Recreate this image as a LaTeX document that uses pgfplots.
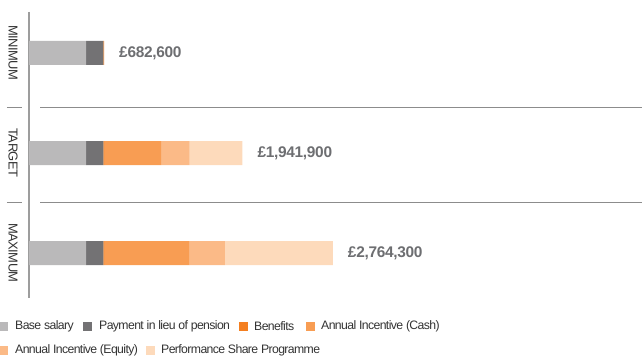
\documentclass[border=0pt]{standalone}
\usepackage{fontspec}
\setmainfont{Liberation Sans}
\newfontfamily\tightfont{Liberation Sans}[LetterSpace=-5]
\newfontfamily\catfont{Liberation Sans}[LetterSpace=-4]
\newfontfamily\valfont{Liberation Sans}[LetterSpace=-2]
\usepackage{pgfplots}
\usepackage{pgfplotstable}
\pgfplotsset{compat=1.18}
\definecolor{cbase}{HTML}{BAB9BA}
\definecolor{cpens}{HTML}{737274}
\definecolor{cben}{HTML}{F47F20}
\definecolor{ccash}{HTML}{F89D53}
\definecolor{cequ}{HTML}{FBBA87}
\definecolor{cpsp}{HTML}{FDDABB}
\definecolor{clab}{HTML}{6D6E71}
\definecolor{ctxt}{HTML}{333333}
\definecolor{cline}{HTML}{8C8C8C}
\tikzset{
  vlab/.style={anchor=west, inner sep=0pt, xshift=15bp, text=clab, font=\valfont\fontsize{15.5}{17}\selectfont\bfseries},
  clab/.style={rotate=-90, text=ctxt, inner sep=0pt, font=\catfont\fontsize{13}{15}\selectfont},
  leg/.style={anchor=west, inner sep=0pt, text=ctxt, font=\tightfont\fontsize{12.3}{14}\selectfont},
}
\pgfplotstableread{
cat base pension benefits cash equity psp
0 520000 156000 6600 0 0 0
1 520000 156000 6600 520000 260000 479300
2 520000 156000 6600 780000 320000 981700
}\data
\begin{document}
\begin{tikzpicture}[x=1bp,y=1bp]
\path[use as bounding box] (0,0) rectangle (642,358);
\begin{axis}[
  at={(29bp,60bp)}, anchor=south west,
  scale only axis, width=613bp, height=286bp,
  xbar stacked, bar width=0.24,
  xmin=0, xmax=5578300, ymin=-0.41, ymax=2.45,
  y dir=reverse, axis lines=none, clip=false,
  xtick=\empty, ytick=\empty,
]
\addplot[fill=cbase, draw=none] table[x=base, y=cat] {\data};
\addplot[fill=cpens, draw=none] table[x=pension, y=cat] {\data};
\addplot[fill=cben, draw=none] table[x=benefits, y=cat] {\data};
\addplot[fill=ccash, draw=none] table[x=cash, y=cat] {\data};
\addplot[fill=cequ, draw=none] table[x=equity, y=cat] {\data};
\addplot[fill=cpsp, draw=none] table[x=psp, y=cat] {\data};
\draw[cline, line width=0.9bp] (axis cs:100100,0.54) -- (axis cs:5578300,0.54);
\draw[cline, line width=0.9bp] (axis cs:100100,1.49) -- (axis cs:5578300,1.49);
\draw[cline, line width=0.9bp] (axis cs:-200200,0.54) -- (axis cs:-63700,0.54);
\draw[cline, line width=0.9bp] (axis cs:-200200,1.49) -- (axis cs:-63700,1.49);
\draw[cline!85, line width=1.3bp] (axis cs:0,-0.41) -- (axis cs:0,2.45);
\node[vlab] at (axis cs:682600,0) {£682,600};
\node[vlab] at (axis cs:1941900,1) {£1,941,900};
\node[vlab] at (axis cs:2764300,2) {£2,764,300};
\node[clab] at (axis cs:-145600,0) {MINIMUM};
\node[clab] at (axis cs:-145600,1) {TARGET};
\node[clab] at (axis cs:-145600,2) {MAXIMUM};
\end{axis}
\fill[cbase] (-1,27.5) rectangle (8,36.5);
\node[leg] at (15,32) {Base salary};
\fill[cpens] (83,27.5) rectangle (92,36.5);
\node[leg] at (99,32) {Payment in lieu of pension};
\fill[cben] (239,27.5) rectangle (248,36.5);
\node[leg] at (254,32) {Benefits};
\fill[ccash] (306,27.5) rectangle (315,36.5);
\node[leg] at (321,32) {Annual Incentive (Cash)};
\fill[cequ] (-1,3.5) rectangle (8,12.5);
\node[leg] at (15,8) {Annual Incentive (Equity)};
\fill[cpsp] (146,3.5) rectangle (155,12.5);
\node[leg] at (161,8) {Performance Share Programme};
\end{tikzpicture}
\end{document}
